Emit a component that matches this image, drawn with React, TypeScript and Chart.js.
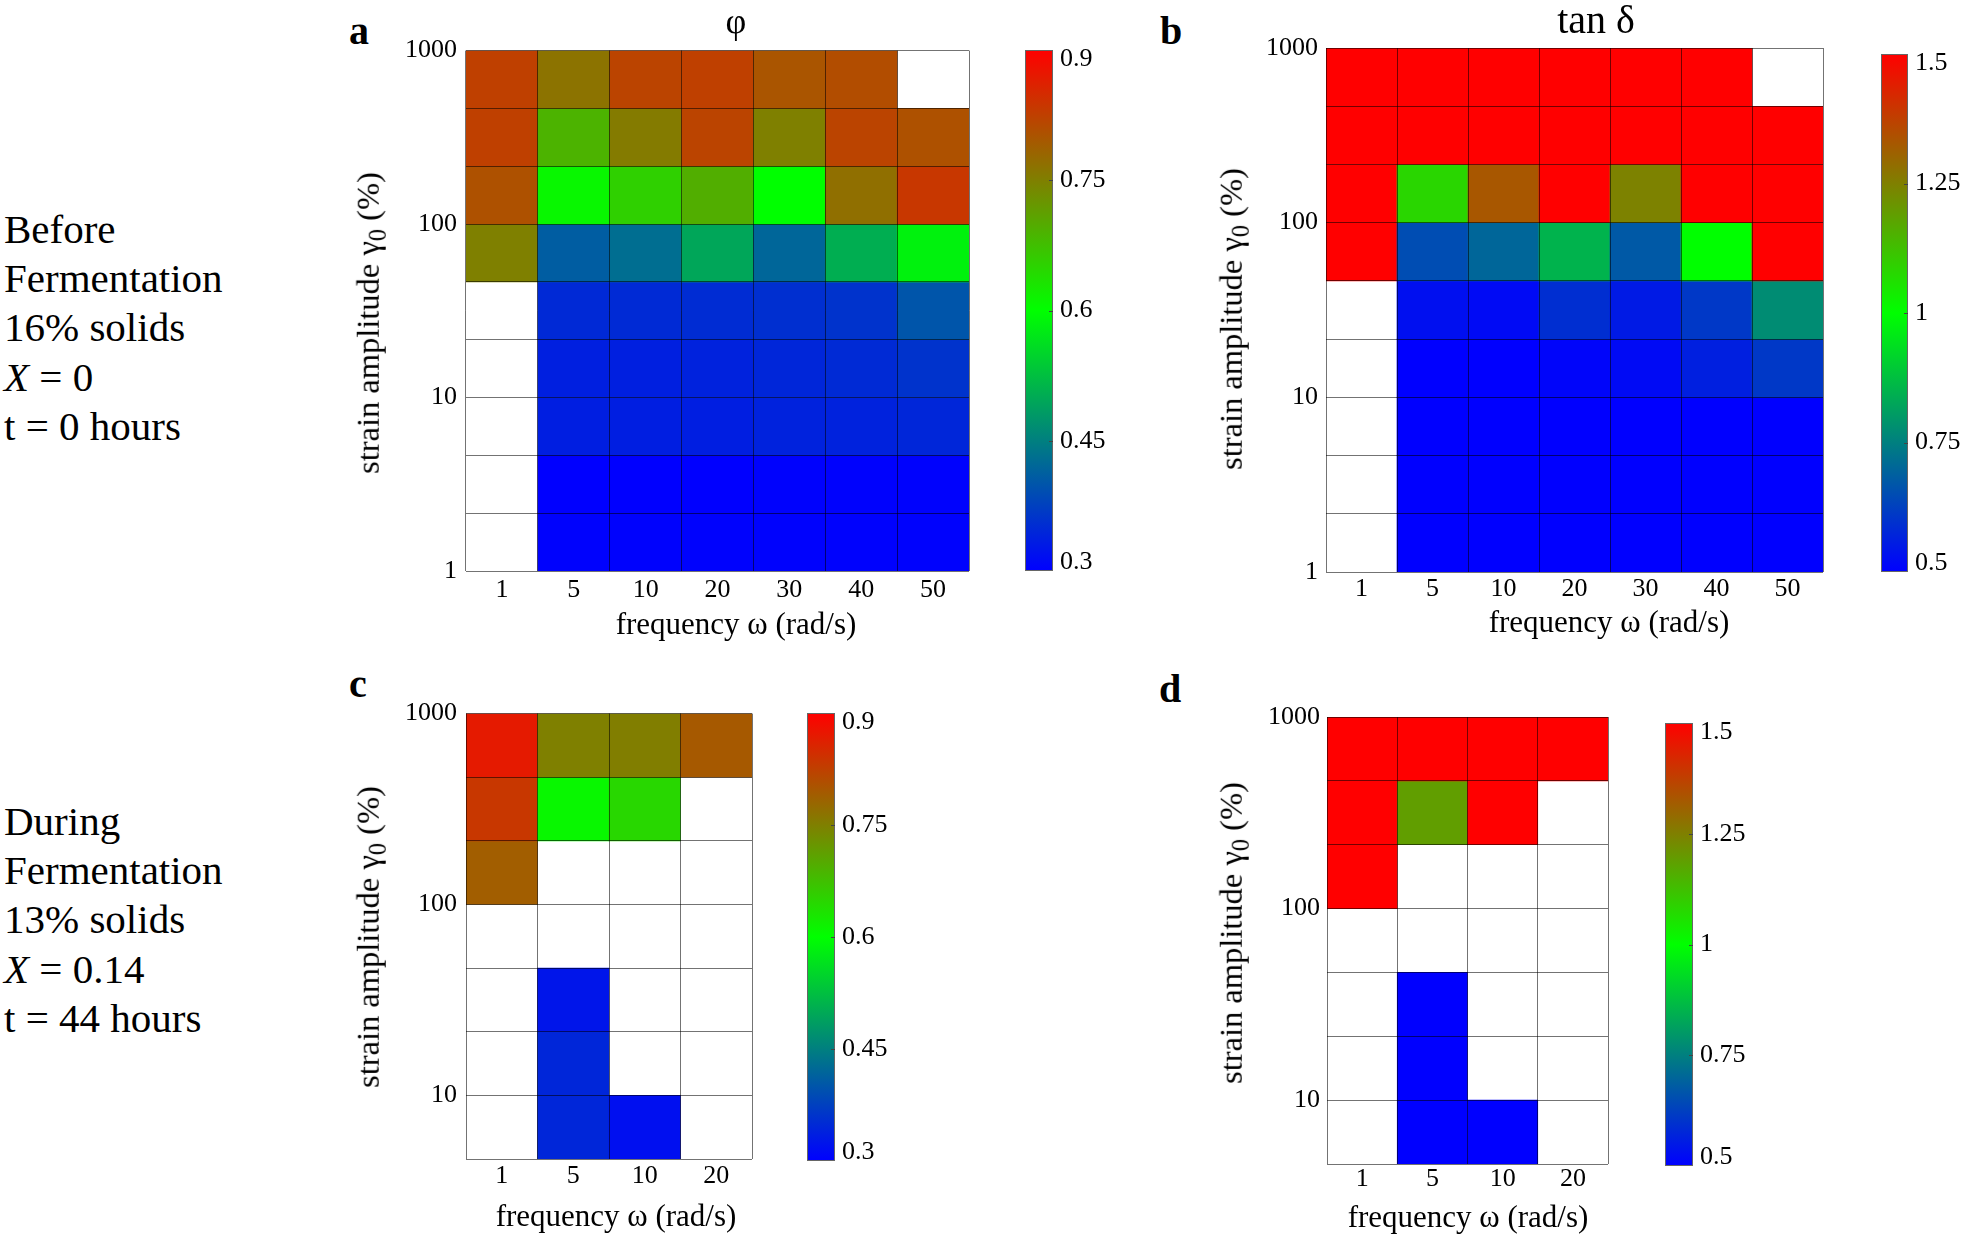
import React, { useEffect, useRef } from 'react';
import { Chart, registerables } from 'chart.js';

Chart.register(...registerables);

const FONT = "'Liberation Serif', 'Times New Roman', serif";
const GRID = 'rgba(0,0,0,0.55)';

// ---- categories / axes ----
const freqBefore = ['1', '5', '10', '20', '30', '40', '50'];
const freqDuring = ['1', '5', '10', '20'];

// strain amplitude cell edges (%), three rows per decade
const strainEdgesBefore = [1, 2.154, 4.642, 10, 21.54, 46.42, 100, 215.4, 464.2, 1000];
const strainLabelsBefore = ['1', '', '', '10', '', '', '100', '', '', '1000'];
const strainEdgesDuring = [4.642, 10, 21.54, 46.42, 100, 215.4, 464.2, 1000];
const strainLabelsDuring = ['', '10', '', '', '100', '', '', '1000'];

// ---- cell values, rows listed from the top (highest strain) down ----
const phiBefore: (number | null)[][] = [
  [0.825, 0.765, 0.82, 0.825, 0.8, 0.81, null],
  [0.825, 0.69, 0.755, 0.82, 0.75, 0.82, 0.805],
  [0.805, 0.61, 0.655, 0.695, 0.6, 0.77, 0.835],
  [0.75, 0.41, 0.43, 0.495, 0.42, 0.505, 0.585],
  [null, 0.348, 0.35, 0.352, 0.355, 0.36, 0.4],
  [null, 0.336, 0.336, 0.34, 0.345, 0.35, 0.36],
  [null, 0.335, 0.335, 0.335, 0.34, 0.34, 0.345],
  [null, 0.3, 0.3, 0.3, 0.302, 0.302, 0.302],
  [null, 0.302, 0.302, 0.302, 0.302, 0.302, 0.302],
];
const tanDeltaBefore: (number | null)[][] = [
  [1.5, 1.5, 1.5, 1.5, 1.5, 1.5, null],
  [1.5, 1.5, 1.5, 1.5, 1.5, 1.5, 1.5],
  [1.5, 1.08, 1.33, 1.5, 1.245, 1.5, 1.5],
  [1.5, 0.65, 0.7, 0.85, 0.675, 1.0, 1.5],
  [null, 0.53, 0.52, 0.59, 0.55, 0.61, 0.775],
  [null, 0.5, 0.5, 0.51, 0.52, 0.56, 0.61],
  [null, 0.5, 0.5, 0.5, 0.5, 0.5, 0.5],
  [null, 0.5, 0.5, 0.5, 0.5, 0.5, 0.5],
  [null, 0.5, 0.5, 0.5, 0.5, 0.5, 0.5],
];
const phiDuring: (number | null)[][] = [
  [0.87, 0.75, 0.752, 0.795],
  [0.835, 0.61, 0.647, null],
  [0.79, null, null, null],
  [null, null, null, null],
  [null, 0.325, null, null],
  [null, 0.345, null, null],
  [null, 0.345, 0.318, null],
];
const tanDeltaDuring: (number | null)[][] = [
  [1.5, 1.5, 1.5, 1.5],
  [1.5, 1.19, 1.5, null],
  [1.5, null, null, null],
  [null, null, null, null],
  [null, 0.5, null, null],
  [null, 0.5, null, null],
  [null, 0.5, 0.5, null],
];

// ---- colour bars ----
const phiRange = [0.3, 0.9];
const phiTicks = [0.3, 0.45, 0.6, 0.75, 0.9];
const phiTickLabels = ['0.3', '0.45', '0.6', '0.75', '0.9'];
const tanRange = [0.5, 1.5];
const tanTicks = [0.5, 0.75, 1, 1.25, 1.5];
const tanTickLabels = ['0.5', '0.75', '1', '1.25', '1.5'];

function colorFor(v: number, lo: number, hi: number): string {
  let t = (v - lo) / (hi - lo);
  t = Math.max(0, Math.min(1, t));
  if (t < 0.5) {
    const s = t / 0.5;
    return `rgb(0,${Math.round(255 * s)},${Math.round(255 * (1 - s))})`;
  }
  const s = (t - 0.5) / 0.5;
  return `rgb(${Math.round(255 * s)},${Math.round(255 * (1 - s))},0)`;
}

type HeatProps = {
  left: number; top: number; right: number; bottom: number;
  cats: string[]; edges: number[]; edgeLabels: string[];
  values: (number | null)[][]; range: number[];
  yPad: number; xPad: number;
};

function Heatmap(p: HeatProps) {
  const ref = useRef<HTMLCanvasElement>(null);
  const AXW = 90, PADT = 24, PADR = 20, AXH = 50;
  const cw = p.right - p.left + AXW + PADR;
  const ch = p.bottom - p.top + PADT + AXH;
  useEffect(() => {
    const nRows = p.values.length;
    const datasets = p.values.map((row, r) => ({
      data: row.map((v) => (v == null ? null : [p.edges[nRows - 1 - r], p.edges[nRows - r]])),
      backgroundColor: row.map((v) => (v == null ? 'rgba(0,0,0,0)' : colorFor(v, p.range[0], p.range[1]))),
      borderWidth: 0,
      grouped: false,
      barPercentage: 1,
      categoryPercentage: 1,
    }));
    const chart = new Chart(ref.current as HTMLCanvasElement, {
      type: 'bar',
      data: { labels: p.cats, datasets: datasets as any },
      options: {
        animation: false,
        responsive: false,
        maintainAspectRatio: false,
        events: [],
        layout: { autoPadding: false, padding: { left: 0, top: PADT, right: PADR, bottom: 0 } } as any,
        plugins: { legend: { display: false }, tooltip: { enabled: false } },
        scales: {
          x: {
            type: 'category',
            offset: true,
            grid: { offset: true, color: GRID, lineWidth: 1, drawTicks: false, z: 1 },
            border: { display: false },
            ticks: { font: { family: FONT, size: 26 }, color: '#000', padding: p.xPad, maxRotation: 0, autoSkip: false },
            afterFit: (s: any) => { s.height = AXH; },
          },
          y: {
            type: 'logarithmic',
            min: p.edges[0],
            max: p.edges[p.edges.length - 1],
            grid: { color: GRID, lineWidth: 1, drawTicks: false, z: 1 },
            border: { display: false },
            afterBuildTicks: (s: any) => { s.ticks = p.edges.map((v) => ({ value: v })); },
            ticks: {
              font: { family: FONT, size: 26 }, color: '#000', padding: p.yPad, autoSkip: false,
              callback: (_v: any, i: number) => p.edgeLabels[i],
            },
            afterFit: (s: any) => { s.width = AXW; },
          },
        },
      } as any,
    });
    return () => chart.destroy();
  }, []);
  return (
    <canvas
      ref={ref}
      width={cw}
      height={ch}
      style={{ position: 'absolute', left: p.left - AXW, top: p.top - PADT, width: cw, height: ch, display: 'block' }}
    />
  );
}

type CbProps = {
  left: number; top: number; right: number; bottom: number;
  range: number[]; ticks: number[]; labels: string[];
};

function ColorBar(p: CbProps) {
  const ref = useRef<HTMLCanvasElement>(null);
  const PADT = 20, PADB = 20, LABW = 80;
  const cw = p.right - p.left + LABW;
  const ch = p.bottom - p.top + PADT + PADB;
  useEffect(() => {
    const labelPlugin = {
      id: 'cbLabels',
      afterDraw(chart: any) {
        const { ctx, chartArea, scales } = chart;
        ctx.save();
        ctx.font = `26px ${FONT}`;
        ctx.fillStyle = '#000';
        ctx.textAlign = 'left';
        ctx.textBaseline = 'middle';
        p.ticks.forEach((v, i) => {
          const py = scales.y.getPixelForValue(v);
          const ly = Math.min(Math.max(py, chartArea.top + 9), chartArea.bottom - 9);
          ctx.fillText(p.labels[i], chartArea.right + 7, ly);
          if (i > 0 && i < p.ticks.length - 1) {
            ctx.strokeStyle = '#444';
            ctx.lineWidth = 1;
            ctx.beginPath();
            ctx.moveTo(chartArea.right - 4, Math.round(py) + 0.5);
            ctx.lineTo(chartArea.right, Math.round(py) + 0.5);
            ctx.stroke();
          }
        });
        ctx.restore();
      },
    };
    const chart = new Chart(ref.current as HTMLCanvasElement, {
      type: 'bar',
      data: {
        labels: ['cb'],
        datasets: [{
          data: [[p.range[0], p.range[1]]] as any,
          backgroundColor: (c: any) => {
            const { ctx, chartArea } = c.chart;
            if (!chartArea) return 'rgb(0,255,0)';
            const g = ctx.createLinearGradient(0, chartArea.bottom, 0, chartArea.top);
            g.addColorStop(0, 'rgb(0,0,255)');
            g.addColorStop(0.5, 'rgb(0,255,0)');
            g.addColorStop(1, 'rgb(255,0,0)');
            return g;
          },
          borderColor: '#666',
          borderWidth: 1,
          borderSkipped: false,
          barPercentage: 1,
          categoryPercentage: 1,
          inflateAmount: 0,
        } as any],
      },
      options: {
        animation: false,
        responsive: false,
        maintainAspectRatio: false,
        events: [],
        layout: { autoPadding: false, padding: { left: 0, right: LABW, top: PADT, bottom: PADB } } as any,
        plugins: { legend: { display: false }, tooltip: { enabled: false } },
        scales: {
          x: { display: false },
          y: { display: false, min: p.range[0], max: p.range[1] },
        },
      } as any,
      plugins: [labelPlugin],
    });
    return () => chart.destroy();
  }, []);
  return (
    <canvas
      ref={ref}
      width={cw}
      height={ch}
      style={{ position: 'absolute', left: p.left, top: p.top - PADT, width: cw, height: ch, display: 'block' }}
    />
  );
}

function Txt(props: { x: number; y: number; size: number; bold?: boolean; rotate?: boolean; children: React.ReactNode }) {
  return (
    <div
      style={{
        position: 'absolute',
        left: props.x,
        top: props.y,
        transform: `translate(-50%, -50%)${props.rotate ? ' rotate(-90deg)' : ''}`,
        fontFamily: FONT,
        fontSize: props.size,
        fontWeight: props.bold ? 'bold' : 'normal',
        lineHeight: 1,
        whiteSpace: 'nowrap',
        color: '#000',
      }}
    >
      {props.children}
    </div>
  );
}

const yTitle = (
  <>
    strain amplitude γ<sub style={{ fontSize: '0.75em', verticalAlign: '-0.3em', lineHeight: 0 }}>0</sub> (%)
  </>
);
const xTitle = 'frequency ω (rad/s)';

export default function App() {
  const blockStyle: React.CSSProperties = {
    position: 'absolute',
    left: 4,
    fontFamily: FONT,
    fontSize: 41,
    lineHeight: '49.2px',
    color: '#000',
    whiteSpace: 'nowrap',
  };
  return (
    <div style={{ position: 'fixed', left: 0, top: 0, width: 1961, height: 1235, background: '#fff', overflow: 'hidden' }}>
      <div style={{ ...blockStyle, top: 205 }}>
        <div>Before</div>
        <div>Fermentation</div>
        <div>16% solids</div>
        <div><i>X</i> = 0</div>
        <div>t = 0 hours</div>
      </div>
      <div style={{ ...blockStyle, top: 797 }}>
        <div>During</div>
        <div>Fermentation</div>
        <div>13% solids</div>
        <div><i>X</i> = 0.14</div>
        <div>t = 44 hours</div>
      </div>

      <Heatmap left={466} top={50} right={969} bottom={571} cats={freqBefore}
        edges={strainEdgesBefore} edgeLabels={strainLabelsBefore} values={phiBefore} range={phiRange} yPad={9} xPad={4} />
      <Heatmap left={1326} top={48} right={1823} bottom={572} cats={freqBefore}
        edges={strainEdgesBefore} edgeLabels={strainLabelsBefore} values={tanDeltaBefore} range={tanRange} yPad={8} xPad={2} />
      <Heatmap left={466} top={713} right={752} bottom={1159} cats={freqDuring}
        edges={strainEdgesDuring} edgeLabels={strainLabelsDuring} values={phiDuring} range={phiRange} yPad={9} xPad={2} />
      <Heatmap left={1327} top={717} right={1608} bottom={1164} cats={freqDuring}
        edges={strainEdgesDuring} edgeLabels={strainLabelsDuring} values={tanDeltaDuring} range={tanRange} yPad={7} xPad={0} />

      <ColorBar left={1025} top={50} right={1053} bottom={571} range={phiRange} ticks={phiTicks} labels={phiTickLabels} />
      <ColorBar left={1881} top={54} right={1908} bottom={572} range={tanRange} ticks={tanTicks} labels={tanTickLabels} />
      <ColorBar left={807} top={713} right={835} bottom={1161} range={phiRange} ticks={phiTicks} labels={phiTickLabels} />
      <ColorBar left={1665} top={723} right={1693} bottom={1166} range={tanRange} ticks={tanTicks} labels={tanTickLabels} />

      <Txt x={359} y={30.5} size={40} bold>a</Txt>
      <Txt x={1171} y={30.5} size={40} bold>b</Txt>
      <Txt x={358} y={684} size={40} bold>c</Txt>
      <Txt x={1170} y={689} size={40} bold>d</Txt>

      <Txt x={736} y={20.5} size={36}>φ</Txt>
      <Txt x={1596} y={19.5} size={40}>tan δ</Txt>

      <Txt x={736} y={623} size={31}>{xTitle}</Txt>
      <Txt x={1609} y={621} size={31}>{xTitle}</Txt>
      <Txt x={616} y={1215} size={31}>{xTitle}</Txt>
      <Txt x={1468} y={1216} size={31}>{xTitle}</Txt>

      <Txt x={368} y={323} size={32.5} rotate>{yTitle}</Txt>
      <Txt x={1231} y={319} size={32.5} rotate>{yTitle}</Txt>
      <Txt x={368} y={937} size={32.5} rotate>{yTitle}</Txt>
      <Txt x={1231} y={933} size={32.5} rotate>{yTitle}</Txt>
    </div>
  );
}
